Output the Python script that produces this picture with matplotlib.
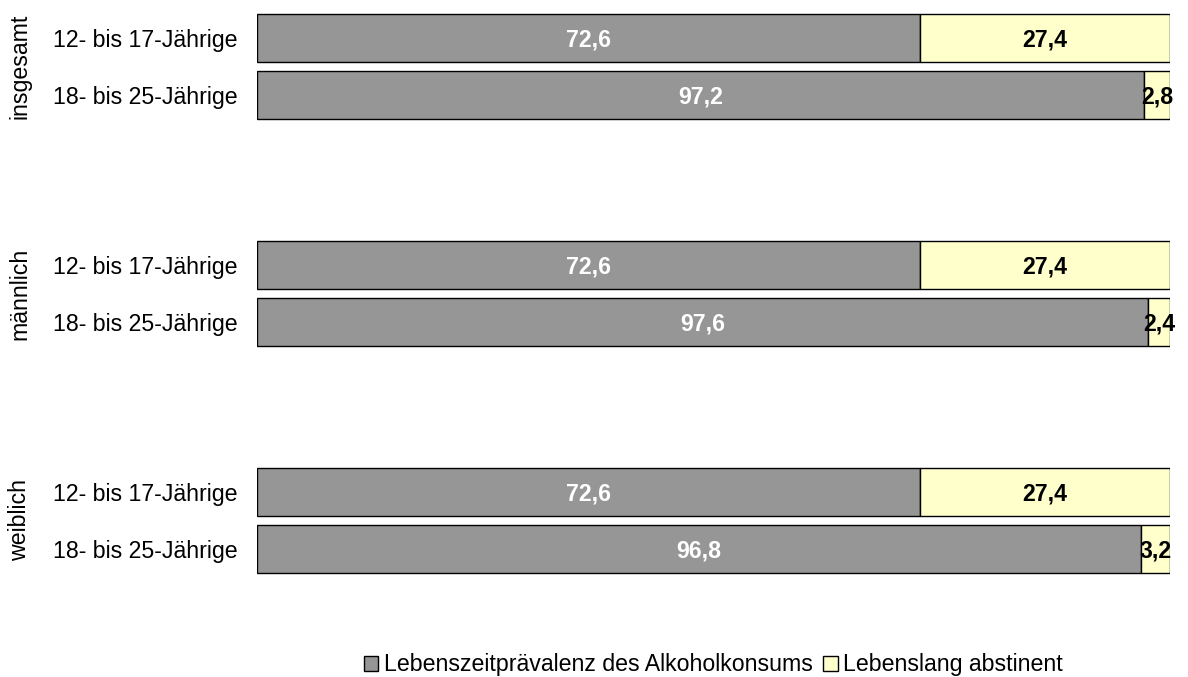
import matplotlib
matplotlib.use("Agg")
import matplotlib.pyplot as plt
from matplotlib.patches import Patch

plt.rcParams['font.family'] = ['Liberation Sans', 'DejaVu Sans']

groups = ["insgesamt", "männlich", "weiblich"]
age_groups = ["12- bis 17-Jährige", "18- bis 25-Jährige"]
praevalenz = [72.6, 97.2, 72.6, 97.6, 72.6, 96.8]
abstinent = [27.4, 2.8, 27.4, 2.4, 27.4, 3.2]
series_names = ["Lebenszeitprävalenz des Alkoholkonsums", "Lebenslang abstinent"]

gray = "#969696"
yellow = "#FFFFCC"
fs = 16.7

fig = plt.figure(figsize=(11.88, 6.77), dpi=100)
ax = fig.add_axes([257/1188, 1 - 588.5/677, 913/1188, 588.5/677])

positions = []
for g in range(len(groups)):
    for a in range(len(age_groups)):
        positions.append(g * 4 + a)

h = 0.846
ax.barh(positions, praevalenz, height=h, color=gray, edgecolor="black", linewidth=1)
ax.barh(positions, abstinent, left=praevalenz, height=h, color=yellow, edgecolor="black", linewidth=1)

dy = 0.035
for y, p, a in zip(positions, praevalenz, abstinent):
    ax.text(p / 2, y + dy, f"{p:.1f}".replace(".", ","), ha="center", va="center",
            color="white", fontsize=fs, fontweight="bold")
    ax.text(p + a / 2, y + dy, f"{a:.1f}".replace(".", ","), ha="center", va="center",
            color="black", fontsize=fs, fontweight="bold")

ax.set_xlim(0, 100)
ax.set_ylim(9 + (588.5 - 548.75) / 56.75, -38 / 56.75)
ax.set_yticks(positions)
ax.set_yticklabels(age_groups * len(groups), fontsize=fs)
ax.tick_params(axis="y", length=0, pad=13.7)
ax.set_xticks([])
for s in ax.spines.values():
    s.set_visible(False)

for g, name in enumerate(groups):
    yc = g * 4 + 0.5
    ax.text(-26.0, yc, name, rotation=90, ha="center", va="center", fontsize=fs,
            transform=ax.transData, clip_on=False)

handles = [Patch(facecolor=gray, edgecolor="black", linewidth=1),
           Patch(facecolor=yellow, edgecolor="black", linewidth=1)]
fig.legend(handles, series_names, loc="center", bbox_to_anchor=(713.5/1188, 1 - 665/677),
           ncol=2, frameon=False, fontsize=fs, handlelength=0.62, handleheight=0.6,
           handletextpad=0.25, columnspacing=0.45, borderpad=0)

fig.savefig("out.png", dpi=100)
